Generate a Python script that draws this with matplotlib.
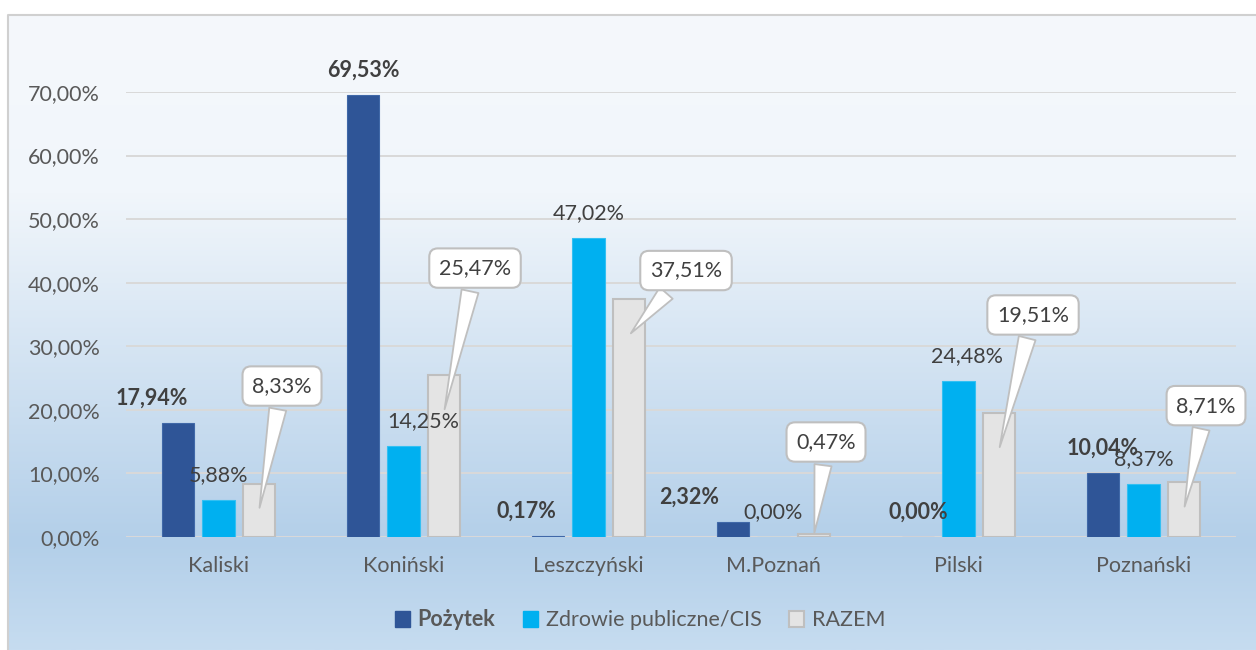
import numpy as np
import matplotlib.pyplot as plt
from matplotlib.colors import LinearSegmentedColormap
from matplotlib.patches import Patch

plt.rcParams['font.family'] = ['Lato', 'DejaVu Sans']

regions = ['Kaliski', 'Koniński', 'Leszczyński', 'M.Poznań', 'Pilski', 'Poznański']
pozytek = [17.94, 69.53, 0.17, 2.32, 0.00, 10.04]
zdrowie = [5.88, 14.25, 47.02, 0.00, 24.48, 8.37]
razem = [8.33, 25.47, 37.51, 0.47, 19.51, 8.71]
series_names = ['Pożytek', 'Zdrowie publiczne/CIS', 'RAZEM']
yticks = [0, 10, 20, 30, 40, 50, 60, 70]

c_poz = '#2f5597'
c_zdr = '#00b0f0'
c_raz = '#e4e4e4'
c_text = '#404040'
c_axis = '#595959'

# manual label nudges (pixels), as placed in the original
poz_dx = [-26, 0, -22, -44, 0, 0]
zdr_dx = [0, 20, 0, 0, 9, 0]
box_off = [(23, 98), (31, 107), (57, 28), (12, 92), (34, 98), (22, 76)]

W, H = 1256, 650
fig = plt.figure(figsize=(W / 100, H / 100), dpi=100)

# background gradient
bg = fig.add_axes([0, 0, 1, 1], zorder=-10)
bg.set_xlim(0, W)
bg.set_ylim(H, 0)
bg.axis('off')
cmap = LinearSegmentedColormap.from_list(
    'bg', [(0, '#f5f8fc'), (0.28, '#f1f6fb'), (0.83, '#b3cfe9'), (1, '#c6dcf0')])
grad = np.linspace(0, 1, 256).reshape(-1, 1)
bg.imshow(grad, cmap=cmap, extent=[8, W, H, 15], aspect='auto')
bg.plot([8, 8, W], [H, 15, 15], color='#d0d0d0', lw=1.5)

ax = fig.add_axes([126 / W, 1 - 537 / H, 1110 / W, 445 / H])
ax.patch.set_alpha(0)

x = np.arange(len(regions))
w = 0.173
off = 0.219
px_x = 1110 / 6          # pixels per category
px_y = 445 / 70          # pixels per percent

ax.bar(x - off, pozytek, w, color=c_poz, edgecolor='#4068a8', lw=0.8, zorder=3)
ax.bar(x, zdrowie, w, color=c_zdr, edgecolor='#33c0f2', lw=0.8, zorder=3)
ax.bar(x + off, razem, w, color=c_raz, edgecolor='#bfbfbf', lw=1.5, zorder=3)

ax.set_xlim(-0.5, len(regions) - 0.5)
ax.set_ylim(0, 70)
ax.set_yticks(yticks)
ax.set_yticklabels([f'{t:.2f}%'.replace('.', ',') for t in yticks],
                   fontsize=15.5, color=c_axis)
ax.set_xticks(x)
ax.set_xticklabels(regions, fontsize=15.5, color=c_axis)
ax.tick_params(axis='y', length=0, pad=19)
ax.tick_params(axis='x', length=0, pad=14)
ax.grid(axis='y', color='#d9d9d9', lw=1.4, zorder=0)
for s in ax.spines.values():
    s.set_visible(False)
ax.axhline(0, color='#d9d9d9', lw=1.8, zorder=2)


def fmt(v):
    return f'{v:.2f}%'.replace('.', ',')


for i in range(len(regions)):
    ax.annotate(fmt(pozytek[i]), (x[i] - off, pozytek[i]),
                xytext=(poz_dx[i], 25), textcoords='offset pixels',
                ha='center', va='center', fontsize=15.5, fontweight='bold',
                color=c_text, zorder=5)
    ax.annotate(fmt(zdrowie[i]), (x[i], zdrowie[i]),
                xytext=(zdr_dx[i], 25), textcoords='offset pixels',
                ha='center', va='center', fontsize=15.5, color=c_text, zorder=5)
    v = razem[i]
    tip = max(v - 5.8, v * 0.5)
    bx, by = box_off[i]
    ax.annotate(fmt(v), (x[i] + off, tip),
                xytext=(x[i] + off + bx / px_x, v + by / px_y), textcoords='data',
                ha='center', va='center', fontsize=15.5, color=c_text, zorder=6,
                bbox=dict(boxstyle='round,pad=0.45,rounding_size=0.4',
                          fc='white', ec='#bfbfbf', lw=1.5),
                arrowprops=dict(arrowstyle='wedge,tail_width=0.8',
                                fc='white', ec='#bfbfbf', lw=1.3))

handles = [Patch(facecolor=c_poz, edgecolor=c_poz),
           Patch(facecolor=c_zdr, edgecolor=c_zdr),
           Patch(facecolor=c_raz, edgecolor='#bfbfbf', lw=1.5)]
leg = fig.legend(handles, series_names, loc='center',
                 bbox_to_anchor=(640 / W, 1 - 620 / H), ncol=3, frameon=False,
                 fontsize=15.5, handlelength=0.7, handleheight=0.7,
                 handletextpad=0.35, columnspacing=1.3)
for t in leg.get_texts():
    t.set_color(c_axis)
leg.get_texts()[0].set_fontweight('bold')

fig.savefig('out.png', dpi=100)
